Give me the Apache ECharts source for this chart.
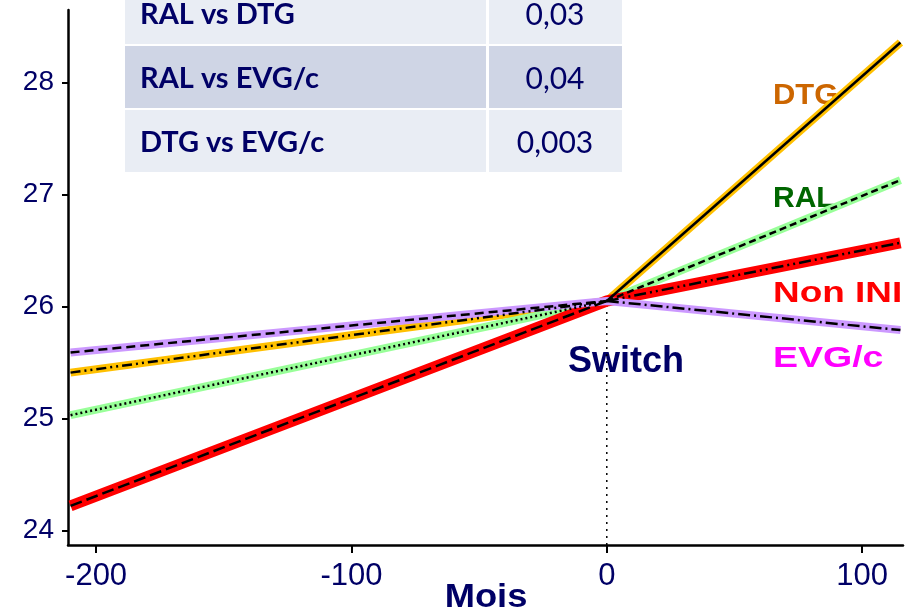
<!DOCTYPE html>
<html>
<head>
<meta charset="utf-8">
<script src="https://cdn.jsdelivr.net/npm/echarts@6/dist/echarts.min.js"></script>
<style>
  html, body { margin: 0; padding: 0; background: #fff; }
  #chart { width: 909px; height: 615px; }
</style>
</head>
<body>
<div id="chart"></div>
<script>
var chart = echarts.init(document.getElementById('chart'));

// months: start, switch, end
var months = [-210, 0, 115];

// fitted values at each month
var dtgVals = [25.41, 26.05, 28.36];
var ralVals = [25.03, 26.05, 27.13];
var noniniVals = [24.22, 26.05, 26.57];
var evgVals = [25.59, 26.05, 25.79];

var groupNames = ['DTG', 'RAL', 'Non INI', 'EVG/c'];
var bandColors = ['#ffc000', '#99ff99', '#ff0000', '#cc99ff'];
var labelColors = ['#cc6600', '#006600', '#ff0000', '#ff00ff'];
// black overlay style before / after switch
var preStyle = [[10, 4, 2, 4, 2, 4], [2, 3], [12, 5], [9, 5]];
var postStyle = ['solid', [7, 4], [12, 4, 2, 4, 2, 4], [12, 4, 2, 4]];

// p-value table
var comparisons = ['RAL vs DTG', 'RAL vs EVG/c', 'DTG vs EVG/c'];
var pvalues = ['0,03', '0,04', '0,003'];

var xTicks = [-200, -100, 0, 100];
var yTicks = [24, 25, 26, 27, 28];

var allVals = [dtgVals, ralVals, noniniVals, evgVals];
var navy = '#000066';

var series = [];
for (var i = 0; i < allVals.length; i++) {
  var pts = [];
  for (var j = 0; j < months.length; j++) pts.push([months[j], allVals[i][j]]);
  series.push({
    name: groupNames[i], type: 'line', data: pts, symbol: 'none',
    lineStyle: { color: bandColors[i], width: i == 2 ? 11 : 8 }, z: 2 + i
  });
  series.push({
    type: 'line', data: pts.slice(0, 2), symbol: 'none',
    lineStyle: { color: '#000', width: 2.5, type: preStyle[i] }, z: 10
  });
  series.push({
    type: 'line', data: pts.slice(1), symbol: 'none',
    lineStyle: { color: '#000', width: 2.5, type: postStyle[i] }, z: 10
  });
}
// dotted switch line
series.push({
  type: 'line', data: [[0, 23.87], [0, dtgVals[1]]], symbol: 'none',
  lineStyle: { color: '#000', width: 1.5, type: [2, 5] }, z: 1
});

var graphic = [];
for (var k = 0; k < comparisons.length; k++) {
  var rowTop = -18 + k * 64;
  var rowFill = k == 1 ? '#cfd5e5' : '#e9edf4';
  graphic.push({
    type: 'rect', x: 125, y: rowTop, shape: { width: 361, height: 62 },
    style: { fill: rowFill }
  });
  graphic.push({
    type: 'rect', x: 489, y: rowTop, shape: { width: 133, height: 62 },
    style: { fill: rowFill }
  });
  graphic.push({
    type: 'text', x: 140, y: rowTop + 33,
    style: { text: comparisons[k], fill: navy, font: 'bold 29px Lato', verticalAlign: 'middle' }
  });
  graphic.push({
    type: 'text', x: 555, y: rowTop + 33,
    style: { text: pvalues[k], fill: navy, font: '30px Lato', align: 'center', verticalAlign: 'middle' }
  });
}
var labelY = [96, 199, 294, 359];
var labelStretch = [1.03, 1.0, 1.23, 1.25];
for (var m = 0; m < groupNames.length; m++) {
  graphic.push({
    type: 'text', x: 773, y: labelY[m], scaleX: labelStretch[m],
    style: { text: groupNames[m], fill: labelColors[m], font: 'bold 30px "Liberation Sans"', verticalAlign: 'middle' }
  });
}
graphic.push({
  type: 'text', x: 568, y: 362,
  style: { text: 'Switch', fill: navy, font: 'bold 36px "Liberation Sans"', verticalAlign: 'middle' }
});
// x axis title
graphic.push({
  type: 'text', x: 486, y: 598, scaleX: 1.1,
  style: { text: 'Mois', fill: navy, font: 'bold 33px "Liberation Sans"', align: 'center', verticalAlign: 'middle' }
});

var option = {
  animation: false,
  grid: { left: 68, right: 6, top: 10, bottom: 70, outerBoundsMode: 'none' },
  xAxis: {
    type: 'value', min: -211, max: 116,
    splitLine: { show: false },
    axisLine: { onZero: false, lineStyle: { color: '#000', width: 2.5 } },
    axisTick: { customValues: xTicks, length: 8, lineStyle: { color: '#000', width: 2 } },
    axisLabel: { customValues: xTicks, color: navy, fontSize: 31, fontFamily: 'Liberation Sans', margin: 16 }
  },
  yAxis: {
    type: 'value', min: 23.87, max: 28.65,
    splitLine: { show: false },
    axisLine: { show: true, onZero: false, lineStyle: { color: '#000', width: 2.5 } },
    axisTick: { show: true, customValues: yTicks, length: 6, lineStyle: { color: '#000', width: 2 } },
    axisLabel: { customValues: yTicks, color: navy, fontSize: 28, fontFamily: 'Liberation Sans', margin: 14 }
  },
  series: series,
  graphic: graphic
};

chart.setOption(option);
</script>
</body>
</html>
